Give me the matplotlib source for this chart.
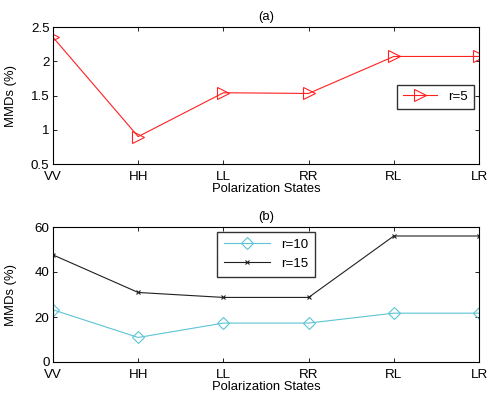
import numpy as np
import matplotlib.pyplot as plt

states = ['VV', 'HH', 'LL', 'RR', 'RL', 'LR']
mmd_r5 = [2.35, 0.90, 1.54, 1.53, 2.07, 2.07]
mmd_r10 = [23.2, 10.9, 17.3, 17.3, 21.7, 21.7]
mmd_r15 = [47.6, 30.9, 28.7, 28.7, 56.0, 56.0]

plt.rcParams['font.family'] = ['Liberation Sans', 'DejaVu Sans']
plt.rcParams['font.size'] = 9.4
plt.rcParams['xtick.direction'] = 'in'
plt.rcParams['ytick.direction'] = 'in'
plt.rcParams['xtick.top'] = True
plt.rcParams['ytick.right'] = True

fig = plt.figure(figsize=(4.9, 4.03), dpi=100)
x = np.arange(len(states))

ax1 = fig.add_axes([53/490, 1 - 164/403, 426/490, 137/403])
ax1.plot(x, mmd_r5, color='#ff2020', lw=0.8, marker='>', ms=8, mfc='none',
         mec='#ff2020', mew=0.8, label='r=5')
ax1.set_xlim(0, 5)
ax1.set_ylim(0.5, 2.5)
ax1.set_yticks([0.5, 1, 1.5, 2, 2.5])
ax1.set_yticklabels(['0.5', '1', '1.5', '2', '2.5'])
ax1.set_xticks(x)
ax1.set_xticklabels(states)
ax1.set_xlabel('Polarization States', labelpad=0)
ax1.set_ylabel('MMDs (%)')
ax1.set_title('(a)', fontsize=9.4, pad=5)
ax1.legend(loc='center right', bbox_to_anchor=(0.988, 0.49), borderaxespad=0,
           fancybox=False, edgecolor='black', handlelength=2.6, borderpad=0.45,
           fontsize=9.6)

ax2 = fig.add_axes([53/490, 1 - 362/403, 426/490, 135/403])
ax2.plot(x, mmd_r10, color='#5cc4d4', lw=0.8, marker='D', ms=6, mfc='none',
         mec='#5cc4d4', mew=0.8, label='r=10')
ax2.plot(x, mmd_r15, color='#202020', lw=0.8, marker='x', ms=3.5,
         mew=0.8, label='r=15')
ax2.set_xlim(0, 5)
ax2.set_ylim(0, 60)
ax2.set_yticks([0, 20, 40, 60])
ax2.set_xticks(x)
ax2.set_xticklabels(states)
ax2.set_xlabel('Polarization States', labelpad=0)
ax2.set_ylabel('MMDs (%)')
ax2.set_title('(b)', fontsize=9.4, pad=5)
ax2.legend(loc='upper center', bbox_to_anchor=(0.5, 0.963), borderaxespad=0,
           fancybox=False, edgecolor='black', handlelength=3.5, borderpad=0.5,
           fontsize=9.6)

for ax in (ax1, ax2):
    for s in ax.spines.values():
        s.set_linewidth(0.8)
    ax.tick_params(length=3, width=0.6, labelsize=9.6)
    ax.tick_params(axis='x', pad=5)
    ax.tick_params(axis='y', pad=2.5)
    ax.yaxis.set_label_coords(-0.085, 0.5)

fig.savefig('out.png', dpi=100)
